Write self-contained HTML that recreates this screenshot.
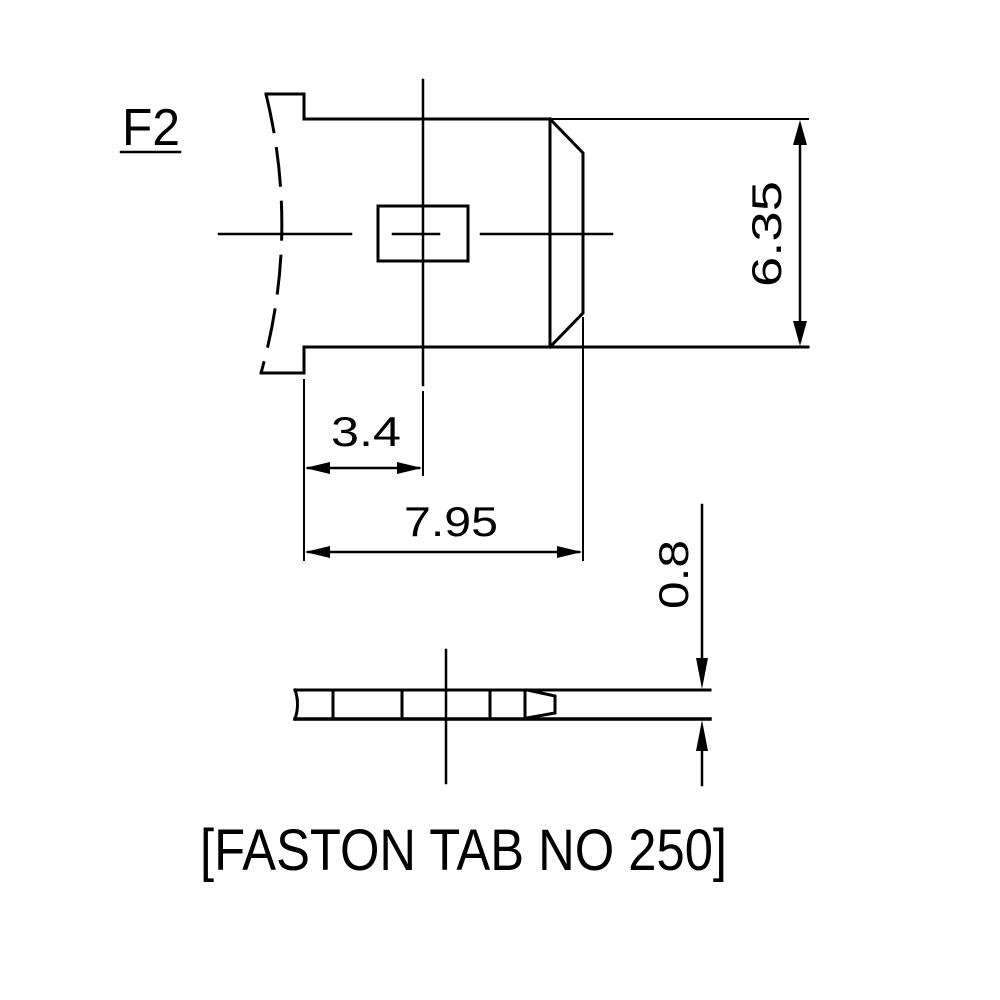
<!DOCTYPE html>
<html><head><style>html,body{margin:0;padding:0;background:#fff}svg{display:block}</style></head><body>
<svg width="1000" height="1000" viewBox="0 0 1000 1000" xmlns="http://www.w3.org/2000/svg">
<g fill="none" stroke="#000" stroke-width="3" stroke-linecap="square">
<!-- top view outline -->
<polyline points="266,94 304,94 304,119 550,119"/>
<polyline points="261,373 304,373 304,347 550,347"/>
<path d="M266,94 Q300,234 261,373" stroke-dasharray="40,14" stroke-linecap="butt"/>
<line x1="550" y1="119" x2="808" y2="119" stroke-width="2"/>
<line x1="550" y1="347" x2="808" y2="347"/>
<polyline points="550,119 583,153 583,313 550,347"/>
<line x1="550" y1="119" x2="550" y2="347"/>
<rect x="378" y="206" width="90" height="55"/>
<!-- center lines -->
<line x1="423" y1="80" x2="423" y2="385" stroke-width="2.5"/>
<line x1="423" y1="392" x2="423" y2="475" stroke-width="2"/>
<line x1="219" y1="234" x2="351" y2="234" stroke-width="2.5"/>
<line x1="393" y1="234" x2="439" y2="234" stroke-width="2.5"/>
<line x1="481" y1="234" x2="612" y2="234" stroke-width="2.5"/>
<!-- extension lines -->
<line x1="304" y1="380" x2="304" y2="560" stroke-width="2"/>
<line x1="583" y1="318" x2="583" y2="560" stroke-width="2"/>
<!-- dim 6.35 -->
<line x1="800" y1="125" x2="800" y2="341" stroke-width="2.5"/>
<!-- dim 3.4 -->
<line x1="308" y1="468" x2="419" y2="468" stroke-width="2.5"/>
<!-- dim 7.95 -->
<line x1="308" y1="552" x2="579" y2="552" stroke-width="2.5"/>
<!-- F2 underline -->
<line x1="121" y1="152" x2="180" y2="152" stroke-width="2.5"/>
<!-- side view -->
<line x1="295" y1="690" x2="710" y2="690"/>
<line x1="295" y1="719" x2="710" y2="719" stroke-width="3.5"/>
<path d="M295,690 Q300,704 295,719"/>
<line x1="333" y1="690" x2="333" y2="719"/>
<line x1="402" y1="690" x2="402" y2="719"/>
<line x1="490" y1="690" x2="490" y2="719"/>
<line x1="525" y1="690" x2="525" y2="719"/>
<polyline points="527,690 555,696 555,713 527,718"/>
<line x1="446" y1="650" x2="446" y2="783" stroke-width="2.5"/>
<line x1="702" y1="505" x2="702" y2="660" stroke-width="2.5"/>
<line x1="702" y1="750" x2="702" y2="785" stroke-width="2.5"/>
</g>
<g fill="#000">
<polygon points="800,120 793,145 807,145"/>
<polygon points="800,346 793,321 807,321"/>
<polygon points="305,468 330,462 330,474"/>
<polygon points="422,468 397,462 397,474"/>
<polygon points="305,552 330,546 330,558"/>
<polygon points="582,552 557,546 557,558"/>
<polygon points="702,689 696,658 708,658"/>
<polygon points="702,720 696,751 708,751"/>
</g>
<g font-family="Liberation Sans, sans-serif" fill="#000">
<text x="122" y="145" font-size="52" textLength="58" lengthAdjust="spacingAndGlyphs">F2</text>
<text x="331" y="446" font-size="42" textLength="70" lengthAdjust="spacingAndGlyphs">3.4</text>
<text x="404" y="536" font-size="42" textLength="94" lengthAdjust="spacingAndGlyphs">7.95</text>
<text transform="translate(781,287) rotate(-90)" font-size="42" textLength="106" lengthAdjust="spacingAndGlyphs">6.35</text>
<text transform="translate(688,609) rotate(-90)" font-size="42" textLength="69" lengthAdjust="spacingAndGlyphs">0.8</text>
<text x="200" y="870" font-size="58" textLength="527" lengthAdjust="spacingAndGlyphs">[FASTON TAB NO 250]</text>
</g>
</svg>
</body></html>
